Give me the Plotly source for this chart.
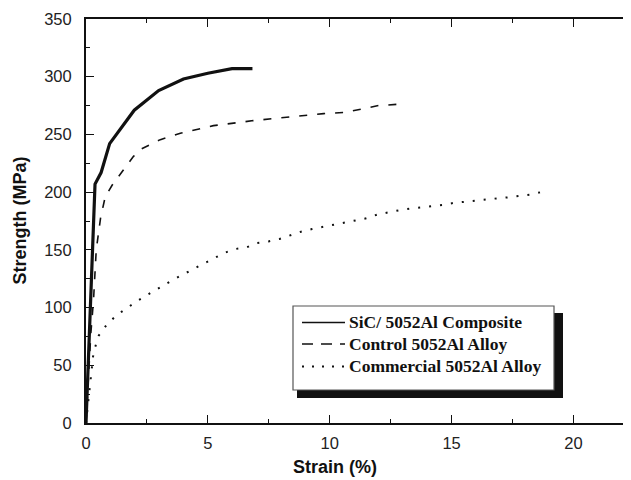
import plotly.graph_objects as go

# ---------------- data (strain %, strength MPa) ----------------
composite_strain = [0, 0.1, 0.2, 0.34, 0.37, 0.62, 0.97, 1.98, 2.98, 4.0, 5.0, 5.99, 6.83]
composite_stress = [0, 55, 115, 193, 207, 217, 242, 271, 288, 298, 303, 307, 307]

control_strain = [0, 0.1, 0.2, 0.31, 0.42, 0.6, 0.79, 1.07, 1.61, 1.95, 2.23, 3.05, 3.87,
                  5.23, 6.87, 8.24, 9.75, 10.6, 11.25, 12.0, 13.03]
control_stress = [0, 40, 78, 107, 150, 178, 196, 206, 222, 231, 237, 245.5, 251,
                  257.6, 262, 265, 268, 269, 272, 275, 276.4]

commercial_strain = [0, 0.05, 0.1, 0.18, 0.29, 0.38, 0.52, 0.83, 1.23, 1.68, 2.12, 2.57, 3.02,
                     3.46, 3.91, 4.35, 4.8, 5.23, 5.67, 6.12, 6.58, 7.01, 7.49, 7.94, 8.38,
                     8.82, 9.27, 9.71, 10.16, 10.6, 11.05, 11.5, 11.94, 12.39, 12.82, 13.27,
                     13.71, 14.16, 14.63, 15.08, 15.52, 15.97, 16.41, 16.86, 17.29, 17.74,
                     18.2, 18.63]
commercial_stress = [0, 10, 20, 37.5, 57.7, 66, 75.6, 84.6, 93, 99.6, 106, 111.7, 117.5,
                     122.7, 127.9, 132.8, 138, 142.3, 147.3, 150.7, 152.1, 155.9, 157.3, 159.4, 162.5,
                     165.7, 168, 169.8, 171.8, 173.3, 175.3, 177.3, 180.5, 182.5, 184.2, 185.6,
                     186.5, 187.4, 188.9, 190.6, 191.7, 192.9, 193.7, 194.6, 195.4, 196.3,
                     197.8, 199.8]

series_names = ["SiC/ 5052Al Composite", "Control 5052Al Alloy", "Commercial 5052Al Alloy"]

x_ticks = [0, 5, 10, 15, 20]
y_ticks = [0, 50, 100, 150, 200, 250, 300, 350]

# ---------------- figure ----------------
# the page body has an 8px margin, so the figure is drawn 8px right/down
OFF = 8
W, H = 631 - OFF, 480 - OFF
PLOT_L, PLOT_T, PLOT_B = 86, 19, 423          # screen pixels of the plot area
ML, MR, MT = PLOT_L - OFF, 0, PLOT_T - OFF
MB = H - (PLOT_B - OFF)
PW, PH = W - ML - MR, PLOT_B - PLOT_T

fig = go.Figure()
fig.add_trace(go.Scatter(x=composite_strain, y=composite_stress, mode="lines",
                         name=series_names[0], line=dict(color="#111", width=3.2),
                         showlegend=False))
fig.add_trace(go.Scatter(x=control_strain, y=control_stress, mode="lines",
                         name=series_names[1], line=dict(color="#111", width=1.6, dash="8px,10px"),
                         showlegend=False))
fig.add_trace(go.Scatter(x=commercial_strain, y=commercial_stress, mode="lines",
                         name=series_names[2], line=dict(color="#111", width=2, dash="2px,9px"),
                         showlegend=False))


def px(X):
    return (X - PLOT_L) / PW


def py(Y):
    return (PLOT_B - Y) / PH


shapes = []
# legend shadow
shapes.append(dict(type="rect", xref="paper", yref="paper",
                   x0=px(297), x1=px(563), y0=py(398), y1=py(313),
                   fillcolor="#111", line=dict(width=0), layer="above"))
# legend box
shapes.append(dict(type="rect", xref="paper", yref="paper",
                   x0=px(293), x1=px(554), y0=py(390), y1=py(306),
                   fillcolor="white", line=dict(color="#555", width=1.2), layer="above"))
row_y = [322.5, 344, 366.5]
styles = [dict(width=1.3, dash="solid"), dict(width=1.5, dash="11px,8px"), dict(width=1.8, dash="2px,8px")]
for ry, st in zip(row_y, styles):
    shapes.append(dict(type="line", xref="paper", yref="paper",
                       x0=px(302), x1=px(345), y0=py(ry), y1=py(ry),
                       line=dict(color="#111", **st), layer="above"))

annotations = []
for ry, name in zip(row_y, series_names):
    annotations.append(dict(xref="paper", yref="paper", x=px(346.5), y=py(ry - 0.5),
                            xanchor="left", yanchor="middle", showarrow=False,
                            text="<b>" + name + "</b>",
                            font=dict(family="Liberation Serif", size=17.5, color="#111")))
# axis titles
annotations.append(dict(xref="paper", yref="paper", x=px(335), y=py(467),
                        xanchor="center", yanchor="middle", showarrow=False,
                        text="<b>Strain (%)</b>",
                        font=dict(family="Liberation Sans", size=18, color="#111")))
annotations.append(dict(xref="paper", yref="paper", x=px(19.5), y=py(221),
                        xanchor="center", yanchor="middle", showarrow=False, textangle=-90,
                        text="<b>Strength (MPa)</b>",
                        font=dict(family="Liberation Sans", size=18, color="#111")))

fig.update_layout(
    width=W, height=H,
    margin=dict(l=ML, r=MR, t=MT, b=MB, pad=0),
    paper_bgcolor="white", plot_bgcolor="white",
    shapes=shapes, annotations=annotations,
    font=dict(family="Liberation Sans", size=16.5, color="#222"),
    xaxis=dict(range=[0, PW / 24.37], tickvals=x_ticks, ticktext=[str(v) for v in x_ticks],
               ticks="inside", ticklen=8, tickwidth=1.3, tickcolor="#111",
               minor=dict(dtick=2.5, ticks="inside", ticklen=4, tickwidth=1.2, tickcolor="#111"),
               showline=True, linecolor="#111", linewidth=2, mirror="ticks",
               showgrid=False, zeroline=False, ticklabelstandoff=4),
    yaxis=dict(range=[0, 350], tickvals=y_ticks, ticktext=[str(v) for v in y_ticks],
               ticks="inside", ticklen=8, tickwidth=1.3, tickcolor="#111",
               minor=dict(dtick=25, ticks="inside", ticklen=4, tickwidth=1.2, tickcolor="#111"),
               showline=True, linecolor="#111", linewidth=2, mirror=False,
               showgrid=False, zeroline=False, ticklabelstandoff=9),
)

fig.write_html("out.html")
